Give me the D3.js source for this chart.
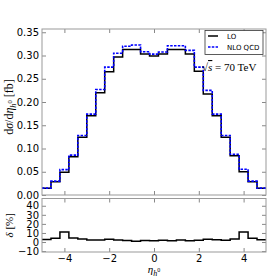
<!DOCTYPE html>
<html>
<head>
<meta charset="utf-8">
<script src="https://cdn.jsdelivr.net/npm/d3@7"></script>
<style>
  body { margin: 0; background: #fff; }
  svg { display: block; }
  .tick text { font-family: "DejaVu Sans", sans-serif; font-size: 10px; fill: #000; }
  .tick line { stroke: #888; }
</style>
</head>
<body>
<div id="chart"></div>
<script>
// bin edges in eta (25 bins of 0.4)
let binEdges = [-5.0, -4.6, -4.2, -3.8, -3.4, -3.0, -2.6, -2.2, -1.8, -1.4, -1.0, -0.6, -0.2,
                0.2, 0.6, 1.0, 1.4, 1.8, 2.2, 2.6, 3.0, 3.4, 3.8, 4.2, 4.6, 5.0];

// d sigma / d eta [fb]
let loValues = [0.0144, 0.0286, 0.049, 0.082, 0.124, 0.1705, 0.220, 0.265, 0.297, 0.313, 0.313, 0.303, 0.299,
                0.303, 0.313, 0.313, 0.303, 0.266, 0.217, 0.1705, 0.124, 0.0845, 0.050, 0.0286, 0.0144];
let nloValues = [0.0148, 0.0298, 0.0545, 0.0857, 0.128, 0.174, 0.227, 0.275, 0.305, 0.320, 0.3226, 0.308, 0.303,
                 0.3075, 0.321, 0.321, 0.311, 0.275, 0.225, 0.174, 0.128, 0.0875, 0.0555, 0.0298, 0.0148];
// relative correction delta [%]
let deltaValues = [2.8, 4.2, 11.0, 4.5, 3.4, 2.3, 2.3, 3.0, 2.3, 1.6, 0.8, 1.6, 1.5,
                   2.0, 1.3, 2.3, 1.3, 2.0, 3.0, 2.5, 2.0, 3.4, 11.0, 4.2, 2.5];

let xTicks = [-4, -2, 0, 2, 4];
let yTicksMain = [0.00, 0.05, 0.10, 0.15, 0.20, 0.25, 0.30, 0.35];
let yTicksDelta = [-10, 0, 10, 20, 30, 40];

const W = 280, H = 280;
const left = 42, right = 266;
const mainTop = 29, mainBottom = 195;
const lowTop = 198.5, lowBottom = 252;
const frameColor = "#999";

let svg = d3.select("#chart").append("svg")
    .attr("width", W)
    .attr("height", H);

let x = d3.scaleLinear().domain([-5, 5]).range([left, right]);
let yMain = d3.scaleLinear().domain([0, 0.357]).range([mainBottom, mainTop]);
let yLow = d3.scaleLinear().domain([-11, 48]).range([lowBottom, lowTop]);

function stepPoints(values)
{
    let pts = values.map(function(v, i) { return [binEdges[i], v]; });
    pts.push([binEdges[binEdges.length - 1], values[values.length - 1]]);
    return pts;
}

function drawTicks(yScale, yTicks, top, bottom, yFormat)
{
    // left with labels
    svg.append("g")
        .attr("transform", "translate(" + left + ",0)")
        .call(d3.axisLeft(yScale).tickValues(yTicks).tickSize(-4).tickPadding(3).tickFormat(yFormat))
        .call(g => g.select(".domain").remove());
    // right
    svg.append("g")
        .attr("transform", "translate(" + right + ",0)")
        .call(d3.axisRight(yScale).tickValues(yTicks).tickSize(-4).tickFormat(""))
        .call(g => g.select(".domain").remove());
    // top
    svg.append("g")
        .attr("transform", "translate(0," + top + ")")
        .call(d3.axisTop(x).tickValues(xTicks).tickSize(-4).tickFormat(""))
        .call(g => g.select(".domain").remove());
}

// main panel
drawTicks(yMain, yTicksMain, mainTop, mainBottom, d3.format(".2f"));
svg.append("g")
    .attr("transform", "translate(0," + mainBottom + ")")
    .call(d3.axisBottom(x).tickValues(xTicks).tickSize(-4).tickFormat(""))
    .call(g => g.select(".domain").remove());

// lower panel
drawTicks(yLow, yTicksDelta, lowTop, lowBottom, d3.format("d"));
svg.append("g")
    .attr("transform", "translate(0," + lowBottom + ")")
    .call(d3.axisBottom(x).tickValues(xTicks).tickSize(-4).tickPadding(3))
    .call(g => g.select(".domain").remove());

let lineMain = d3.line()
    .x(d => x(d[0]))
    .y(d => yMain(d[1]))
    .curve(d3.curveStepAfter);

let lineLow = d3.line()
    .x(d => x(d[0]))
    .y(d => yLow(d[1]))
    .curve(d3.curveStepAfter);

svg.append("path")
    .attr("d", lineMain(stepPoints(loValues)))
    .attr("fill", "none")
    .attr("stroke", "#000")
    .attr("stroke-width", 1.5);

svg.append("path")
    .attr("d", lineMain(stepPoints(nloValues)))
    .attr("fill", "none")
    .attr("stroke", "#0000ff")
    .attr("stroke-width", 1.6)
    .attr("stroke-dasharray", "2.5,1.3");

svg.append("path")
    .attr("d", lineLow(stepPoints(deltaValues)))
    .attr("fill", "none")
    .attr("stroke", "#000")
    .attr("stroke-width", 1.5);

// frames
svg.append("rect")
    .attr("x", left).attr("y", mainTop)
    .attr("width", right - left).attr("height", mainBottom - mainTop)
    .attr("fill", "none").attr("stroke", frameColor).attr("stroke-width", 1);
svg.append("rect")
    .attr("x", left).attr("y", lowTop)
    .attr("width", right - left).attr("height", lowBottom - lowTop)
    .attr("fill", "none").attr("stroke", frameColor).attr("stroke-width", 1);

// legend
let legend = svg.append("g").attr("transform", "translate(205,30.5)");
legend.append("rect")
    .attr("width", 58).attr("height", 24)
    .attr("fill", "#fff").attr("stroke", "#333").attr("stroke-width", 0.8);
legend.append("line")
    .attr("x1", 3).attr("x2", 13).attr("y1", 5.5).attr("y2", 5.5)
    .attr("stroke", "#000").attr("stroke-width", 1.5);
legend.append("line")
    .attr("x1", 3).attr("x2", 13).attr("y1", 16.5).attr("y2", 16.5)
    .attr("stroke", "#0000ff").attr("stroke-width", 1.6).attr("stroke-dasharray", "2.5,1.3");
legend.selectAll("text.leg")
    .data(["LO", "NLO QCD"])
    .enter().append("text")
    .attr("class", "leg")
    .attr("x", 22)
    .attr("y", (d, i) => 8 + i * 11)
    .style("font-family", "DejaVu Sans, sans-serif")
    .style("font-size", "7px")
    .text(d => d);

// sqrt(s) annotation
let ann = svg.append("text")
    .attr("x", 202).attr("y", 71)
    .style("font-family", "Liberation Serif, serif")
    .style("font-size", "11px");
ann.append("tspan").text("\u221A");
ann.append("tspan").style("font-style", "italic").style("text-decoration", "overline").text("s");
ann.append("tspan").text(" = 70 TeV");

// y label main
let yl = svg.append("text")
    .attr("transform", "translate(13,107) rotate(-90)")
    .attr("text-anchor", "middle")
    .style("font-family", "Liberation Serif, serif")
    .style("font-size", "12px");
yl.append("tspan").text("d");
yl.append("tspan").style("font-style", "italic").text("\u03C3");
yl.append("tspan").text("/d");
yl.append("tspan").style("font-style", "italic").text("\u03B7");
yl.append("tspan").style("font-style", "italic").style("font-size", "8.5px").attr("dy", 2.5).text("h");
yl.append("tspan").style("font-size", "6.5px").attr("dy", -4).text("0");
yl.append("tspan").attr("dy", 1.5).text(" [fb]");

// y label lower
let dl = svg.append("text")
    .attr("transform", "translate(13," + ((lowTop + lowBottom) / 2) + ") rotate(-90)")
    .attr("text-anchor", "middle")
    .style("font-family", "Liberation Serif, serif")
    .style("font-size", "11px");
dl.append("tspan").style("font-style", "italic").text("\u03B4");
dl.append("tspan").text(" [%]");

// x label
let xl = svg.append("text")
    .attr("x", (left + right) / 2).attr("y", 273)
    .attr("text-anchor", "middle")
    .style("font-family", "Liberation Serif, serif")
    .style("font-size", "11px");
xl.append("tspan").style("font-style", "italic").text("\u03B7");
xl.append("tspan").style("font-style", "italic").style("font-size", "8px").attr("dy", 2.5).text("h");
xl.append("tspan").style("font-size", "6px").attr("dy", -4).text("0");
</script>
</body>
</html>
